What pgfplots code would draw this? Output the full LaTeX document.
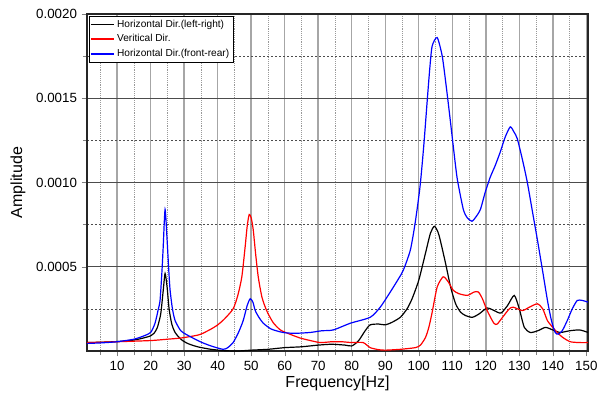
\documentclass[border=0pt]{standalone}
\usepackage{fontspec}
\setmainfont{Liberation Sans}
\usepackage{pgfplots}
\pgfplotsset{compat=1.18}

\begin{document}
\begin{tikzpicture}
\begin{axis}[
    at={(0,0)}, anchor=south west,
    scale only axis,
    width=375.75pt, height=252.75pt,
    xmin=1, xmax=150.5,
    ymin=0, ymax=0.002,
    xtick={10,20,...,150},
    minor xtick={5,15,...,145},
    ytick={0.0005,0.001,0.0015,0.002},
    minor ytick={0.00025,0.00075,0.00125,0.00175},
    scaled y ticks=false,
    yticklabel style={/pgf/number format/.cd, fixed, fixed zerofill, precision=4},
    /pgf/number format/assume math mode=true,
    tick label style={font=\fontsize{10}{12}\selectfont},
    tick align=outside,
    xtick pos=bottom, ytick pos=left,
    major tick length=4pt, minor tick length=3pt,
    grid=both,
    major x grid style={gray!70, line width=1.1pt},
    minor x grid style={gray!80, densely dotted, line width=0.6pt},
    major y grid style={black!70, line width=0.5pt},
    minor y grid style={black!70, dash pattern=on 1.5pt off 1.5pt, line width=0.4pt},
    axis line style={black!85, line width=1pt},
    xlabel={Frequency[Hz]},
    ylabel={Amplitude},
    label style={font=\fontsize{12}{14}\selectfont},
    xlabel style={at={(axis description cs:0.5,-0.095)}, anchor=center},
    ylabel style={at={(axis description cs:-0.1377,0.5)}, anchor=center},
    legend style={at={(axis description cs:0.003,0.995)}, anchor=north west,
        font=\fontsize{7.6}{9}\selectfont,
        inner xsep=1pt, inner ysep=1pt, row sep=0pt},
    legend cell align=left,
    legend image post style={line width=1.2pt},
    every axis plot/.append style={line width=0.9pt, smooth, tension=0.4},
]
\addplot[black] coordinates {
(1,0.00005) (5,0.000052) (10,0.000056) (15,0.000065) (18,0.000078) (20,0.00009)
(21,0.000105) (22,0.00014) (23,0.00022) (23.7,0.00035) (24.3,0.00046) (24.9,0.00038)
(25.5,0.00025) (26.3,0.00016) (27.3,0.00011) (29,0.00007) (31,0.000045) (34,0.000025)
(38,0.00001) (42,0.000002) (46,0.0) (50,0.000005) (55,0.00001) (60,0.00002)
(65,0.000025) (70,0.000035) (74,0.00004) (78,0.000035) (80,0.00003) (82,0.00006)
(84,0.00012) (85.5,0.000155) (88,0.00016) (90,0.000155) (92,0.00017) (94.5,0.0002)
(96.5,0.00025) (98,0.00031) (100,0.00042) (102,0.00058) (103.5,0.0007) (104.7,0.00074)
(106,0.00069) (108,0.00052) (109.5,0.00038) (111,0.00028) (112.5,0.00023) (114,0.00021)
(116,0.0002) (118,0.00022) (120.4,0.000255) (122.5,0.00024) (124.5,0.000225)
(126.5,0.00027) (128.5,0.00033) (130,0.00025) (131.5,0.00014) (133.3,0.00011)
(135.5,0.00012) (137.8,0.00014) (140,0.000125) (142.2,0.00011) (145,0.00012)
(148,0.000125) (150.5,0.00011)
};
\addlegendentry{Horizontal Dir.(left-right)}
\addplot[red] coordinates {
(1,0.00005) (10,0.000055) (20,0.000062) (25,0.00007) (29,0.000077) (33,0.00009)
(35,0.0001) (38,0.00013) (40,0.000155) (42,0.00019) (44.6,0.00025) (46,0.00033)
(47.2,0.00044) (48.2,0.00062) (48.8,0.00074) (49.4,0.00081) (50,0.00079) (50.6,0.00072)
(51.3,0.00058) (52.1,0.00044) (53.2,0.00032) (54.6,0.00024) (56.5,0.00017)
(58.7,0.000125) (61.5,0.0001) (64.6,0.000077) (67,0.000065) (70.6,0.00005)
(74,0.000055) (77,0.000055) (80,0.00005) (83.4,0.00005) (85.5,0.00002) (88,0.000008)
(90,0.000005) (94.5,0.00001) (99,0.00002) (100.5,0.000035) (102,0.00008) (103,0.00014)
(104,0.00023) (105.5,0.00038) (107.3,0.00044) (108.8,0.00041) (110.3,0.00036)
(112,0.00034) (114.5,0.00033) (116.5,0.00035) (117.8,0.00035) (119,0.00031)
(120.4,0.00024) (122.4,0.000165) (123.4,0.00016) (125,0.0002) (127,0.00025)
(128.2,0.00026) (130.9,0.00024) (133,0.00026) (135.4,0.00028) (137,0.00025)
(138.4,0.00018) (140,0.00014) (141.3,0.00011) (143,0.00008) (145.2,0.000055)
(148,0.00005) (150.5,0.00005)
};
\addlegendentry{Veritical Dir.}
\addplot[blue] coordinates {
(1,0.000045) (5,0.000048) (10,0.000055) (15,0.00007) (18,0.00009) (20,0.00011)
(21.3,0.000165) (22.3,0.00025) (22.8,0.0003) (23.3,0.00045) (23.7,0.0006)
(24.3,0.00084) (24.9,0.00066) (25.4,0.00048) (25.8,0.00036) (26.5,0.00025)
(27.3,0.00018) (29,0.00012) (30.9,0.000095) (34.8,0.000055) (38,0.00003)
(41.6,0.00001) (43,0.00002) (44.6,0.00005) (46.2,0.00011) (47.6,0.00018)
(48.8,0.00027) (49.7,0.00031) (50.5,0.00029) (51.2,0.00024) (52.3,0.0002)
(53.6,0.000165) (56,0.00013) (59.5,0.00011) (63,0.000105) (67.6,0.00011) (71,0.00012)
(74.5,0.000125) (79.6,0.000165) (85.5,0.0002) (88.5,0.00026) (91.5,0.00035)
(94,0.00043) (95.4,0.00048) (97.5,0.0006) (99,0.00077) (100.4,0.00098)
(101.5,0.00122) (102.5,0.00148) (103.3,0.00168) (104,0.00181) (105.5,0.00186)
(107,0.00175) (108.2,0.00157) (109.4,0.00137) (110.5,0.00118) (111.5,0.00102)
(113.3,0.00084) (114.5,0.00079) (115.9,0.00077) (117.2,0.0008) (118.4,0.00084)
(119.8,0.00094) (121.3,0.00103) (122.8,0.0011) (124.3,0.00118) (125.8,0.00127)
(127.3,0.00133) (128.4,0.0013) (129.4,0.00126) (131,0.00113) (132.4,0.001)
(133.9,0.00083) (135.4,0.00066) (137,0.00047) (138.4,0.0003) (139.6,0.00018)
(140.7,0.00011) (141.6,0.0001) (142.8,0.00012) (144.3,0.00018) (145.8,0.00025)
(147.3,0.0003) (148.8,0.0003) (150.5,0.00029)
};
\addlegendentry{Horizontal Dir.(front-rear)}
\end{axis}
\pgfresetboundingbox
\path[use as bounding box] (-65.25pt,-36.75pt) rectangle (384.75pt,263.25pt);
\end{tikzpicture}
\end{document}
